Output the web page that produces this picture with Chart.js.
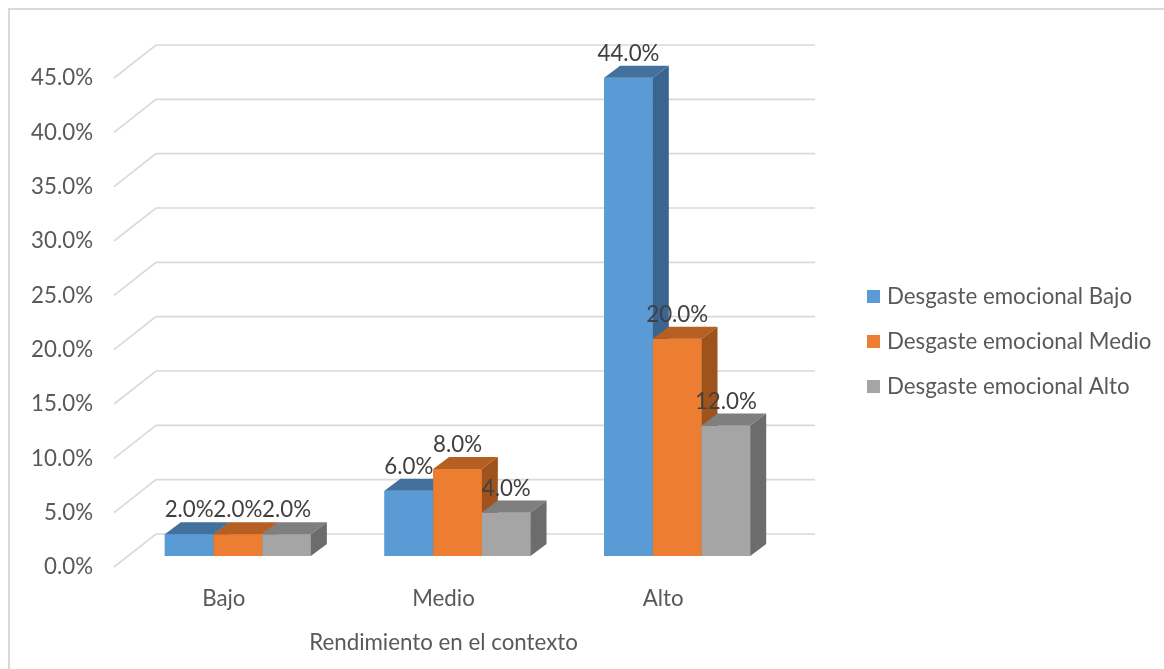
<!DOCTYPE html>
<html lang="es">
<head>
  <meta charset="UTF-8" />
  <title>Rendimiento en el contexto</title>
  <script src="https://cdn.jsdelivr.net/npm/chart.js"></script>
  <style>
    html, body { margin: 0; padding: 0; background: #ffffff; }
    #wrap { width: 1164px; height: 669px; }
  </style>
</head>
<body>
<div id="wrap"><canvas id="chart" width="1164" height="669"></canvas></div>

<script>
  // datos (porcentajes)
  const categories = ['Bajo', 'Medio', 'Alto'];
  const seriesNames = ['Desgaste emocional Bajo', 'Desgaste emocional Medio', 'Desgaste emocional Alto'];
  const desgasteBajo = [2.0, 6.0, 44.0];
  const desgasteMedio = [2.0, 8.0, 20.0];
  const desgasteAlto = [2.0, 4.0, 12.0];
  const yMax = 45;
  const yStep = 5;

  const colors = ['#5b9bd5', '#ed7d31', '#a5a5a5'];
  const topColors = ['#41719c', '#b65f23', '#7f7f7f'];
  const sideColors = ['#3a6590', '#a0521d', '#6c6c6c'];
  const FONT = 'Lato, "Open Sans", sans-serif';
  const FS = 22.3;

  // profundidad del efecto 3D
  const wall = { dx: 42, dy: -33 };
  const shift = { dx: 14, dy: -11 };
  const barDepth = { dx: 16, dy: -12 };

  const fake3d = {
    id: 'fake3d',
    beforeDraw(chart) {
      const ctx = chart.ctx;
      ctx.save();
      ctx.strokeStyle = '#d9d9d9';
      ctx.lineWidth = 2;
      ctx.strokeRect(9, 9, 1300, 800);
      ctx.restore();
    },
    beforeDatasetsDraw(chart) {
      const ctx = chart.ctx;
      const y = chart.scales.y;
      const area = chart.chartArea;
      ctx.save();
      ctx.strokeStyle = '#d9d9d9';
      ctx.lineWidth = 1.6;
      y.ticks.forEach(t => {
        const py = y.getPixelForValue(t.value);
        ctx.beginPath();
        ctx.moveTo(area.left, py);
        ctx.lineTo(area.left + wall.dx, py + wall.dy);
        ctx.lineTo(area.right + wall.dx, py + wall.dy);
        ctx.stroke();
      });
      ctx.restore();
      ctx.save();
      ctx.translate(shift.dx, shift.dy);
    },
    afterDatasetsDraw(chart) {
      const ctx = chart.ctx;
      const metas = chart.data.datasets.map((d, i) => chart.getDatasetMeta(i));
      categories.forEach((c, j) => {
        metas.forEach((meta, i) => {
          const bar = meta.data[j];
          const left = bar.x - bar.width / 2;
          const right = bar.x + bar.width / 2;
          ctx.fillStyle = colors[i];
          ctx.fillRect(left, bar.y, bar.width, bar.base - bar.y);
          ctx.fillStyle = topColors[i];
          ctx.beginPath();
          ctx.moveTo(left, bar.y);
          ctx.lineTo(left + barDepth.dx, bar.y + barDepth.dy);
          ctx.lineTo(right + barDepth.dx, bar.y + barDepth.dy);
          ctx.lineTo(right, bar.y);
          ctx.closePath();
          ctx.fill();
          ctx.fillStyle = sideColors[i];
          ctx.beginPath();
          ctx.moveTo(right, bar.y);
          ctx.lineTo(right + barDepth.dx, bar.y + barDepth.dy);
          ctx.lineTo(right + barDepth.dx, bar.base + barDepth.dy);
          ctx.lineTo(right, bar.base);
          ctx.closePath();
          ctx.fill();
        });
      });
      // etiquetas de datos
      ctx.font = FS + 'px ' + FONT;
      ctx.fillStyle = '#404040';
      ctx.textAlign = 'center';
      ctx.textBaseline = 'middle';
      metas.forEach((meta, i) => {
        meta.data.forEach((bar, j) => {
          const v = chart.data.datasets[i].data[j];
          ctx.fillText(v.toFixed(1) + '%', bar.x, bar.y - 24);
        });
      });
      ctx.restore();

      // leyenda
      ctx.save();
      ctx.font = FS + 'px ' + FONT;
      ctx.textAlign = 'left';
      ctx.textBaseline = 'middle';
      chart.data.datasets.forEach((d, i) => {
        const cy = 297 + i * 45;
        ctx.fillStyle = colors[i];
        ctx.fillRect(867, cy - 7, 13, 13);
        ctx.fillStyle = '#595959';
        ctx.fillText(d.label, 887, cy);
      });
      ctx.restore();
    }
  };

  new Chart(document.getElementById('chart').getContext('2d'), {
    type: 'bar',
    data: {
      labels: categories,
      datasets: [
        { label: seriesNames[0], data: desgasteBajo, backgroundColor: colors[0] },
        { label: seriesNames[1], data: desgasteMedio, backgroundColor: colors[1] },
        { label: seriesNames[2], data: desgasteAlto, backgroundColor: colors[2] }
      ]
    },
    options: {
      responsive: false,
      animation: false,
      clip: false,
      layout: { padding: { left: 0, top: 78, right: 391, bottom: 0 } },
      datasets: { bar: { categoryPercentage: 0.665, barPercentage: 1 } },
      plugins: { legend: { display: false }, tooltip: { enabled: false } },
      scales: {
        x: {
          grid: { display: false, drawTicks: false },
          border: { display: false },
          ticks: { color: '#595959', font: { family: FONT, size: FS }, padding: 18 },
          title: {
            display: true,
            text: 'Rendimiento en el contexto',
            color: '#595959',
            font: { family: FONT, size: FS },
            padding: { top: 0, bottom: 13 }
          },
          afterFit(scale) { scale.height = 102; }
        },
        y: {
          min: 0,
          max: yMax,
          grid: { display: false, drawTicks: false },
          border: { display: false },
          ticks: {
            stepSize: yStep,
            color: '#595959',
            font: { family: FONT, size: FS },
            padding: 21,
            callback: v => v.toFixed(1) + '%'
          },
          afterFit(scale) { scale.width = 114; }
        }
      }
    },
    plugins: [fake3d]
  });
</script>
</body>
</html>
